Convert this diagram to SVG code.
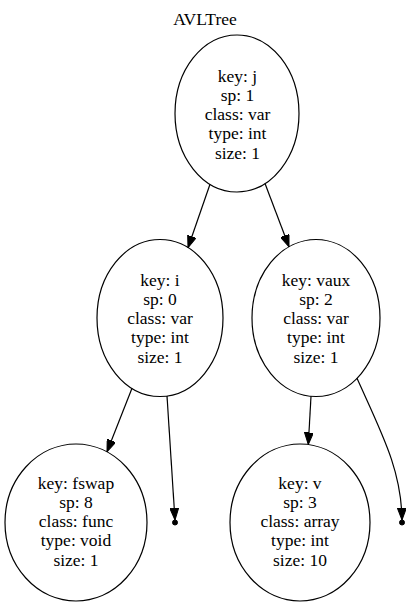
<svg xmlns="http://www.w3.org/2000/svg" width="410" height="607" viewBox="0 0 410 607">
<defs>
<style>
.n ellipse{fill:none;stroke:#000;stroke-width:1.2}
.t{font-family:"Liberation Serif","Times New Roman",serif;font-size:17.5px;text-anchor:middle;fill:#000}
.e{fill:none;stroke:#000;stroke-width:1.2}
.pt{fill:#000;stroke:#000}
</style>
<marker id="ah" markerWidth="12" markerHeight="9" refX="12" refY="4.5" orient="auto" markerUnits="userSpaceOnUse">
<path d="M0,0 L12,4.5 L0,9 Z" fill="#000" stroke="#000" stroke-width="1"/>
</marker>
</defs>
<rect width="410" height="607" fill="#fff"/>
<text class="t" x="205" y="25">AVLTree</text>

<g id="edges">
<path class="e" d="M210,184.2 L188,247.7" marker-end="url(#ah)"/>
<path class="e" d="M265,183.5 L289,246.8" marker-end="url(#ah)"/>
<path class="e" d="M132,388.3 L107,451.8" marker-end="url(#ah)"/>
<path class="e" d="M167,396 L175,520" marker-end="url(#ah)"/>
<path class="e" d="M311,396.3 L308.3,444.5" marker-end="url(#ah)"/>
<path class="e" d="M357,378.3 C382,434 401.5,470 402,520" marker-end="url(#ah)"/>
</g>

<g id="node_j" class="n">
<ellipse cx="237" cy="113.5" rx="62" ry="78.5"/>
<text class="t" x="237.5" y="81.5">key: j</text>
<text class="t" x="237.5" y="100.8">sp: 1</text>
<text class="t" x="237.5" y="120.1">class: var</text>
<text class="t" x="237.5" y="139.4">type: int</text>
<text class="t" x="237.5" y="158.7">size: 1</text>
</g>

<g id="node_i" class="n">
<ellipse cx="160" cy="318" rx="63" ry="78.5"/>
<text class="t" x="160" y="285.5">key: i</text>
<text class="t" x="160" y="304.8">sp: 0</text>
<text class="t" x="160" y="324.1">class: var</text>
<text class="t" x="160" y="343.4">type: int</text>
<text class="t" x="160" y="362.7">size: 1</text>
</g>

<g id="node_vaux" class="n">
<ellipse cx="316" cy="318" rx="64" ry="78.5"/>
<text class="t" x="316" y="285.5">key: vaux</text>
<text class="t" x="316" y="304.8">sp: 2</text>
<text class="t" x="316" y="324.1">class: var</text>
<text class="t" x="316" y="343.4">type: int</text>
<text class="t" x="316" y="362.7">size: 1</text>
</g>

<g id="node_fswap" class="n">
<ellipse cx="76" cy="522.5" rx="71" ry="78.5"/>
<text class="t" x="76" y="488.5">key: fswap</text>
<text class="t" x="76" y="507.8">sp: 8</text>
<text class="t" x="76" y="527.1">class: func</text>
<text class="t" x="76" y="546.4">type: void</text>
<text class="t" x="76" y="565.7">size: 1</text>
</g>

<g id="node_null1">
<circle class="pt" cx="175" cy="522.5" r="2.5"/>
</g>

<g id="node_v" class="n">
<ellipse cx="300" cy="522.5" rx="70" ry="78.5"/>
<text class="t" x="300" y="488.5">key: v</text>
<text class="t" x="300" y="507.8">sp: 3</text>
<text class="t" x="300" y="527.1">class: array</text>
<text class="t" x="300" y="546.4">type: int</text>
<text class="t" x="300" y="565.7">size: 10</text>
</g>

<g id="node_null2">
<circle class="pt" cx="402" cy="522.5" r="2.5"/>
</g>
</svg>
